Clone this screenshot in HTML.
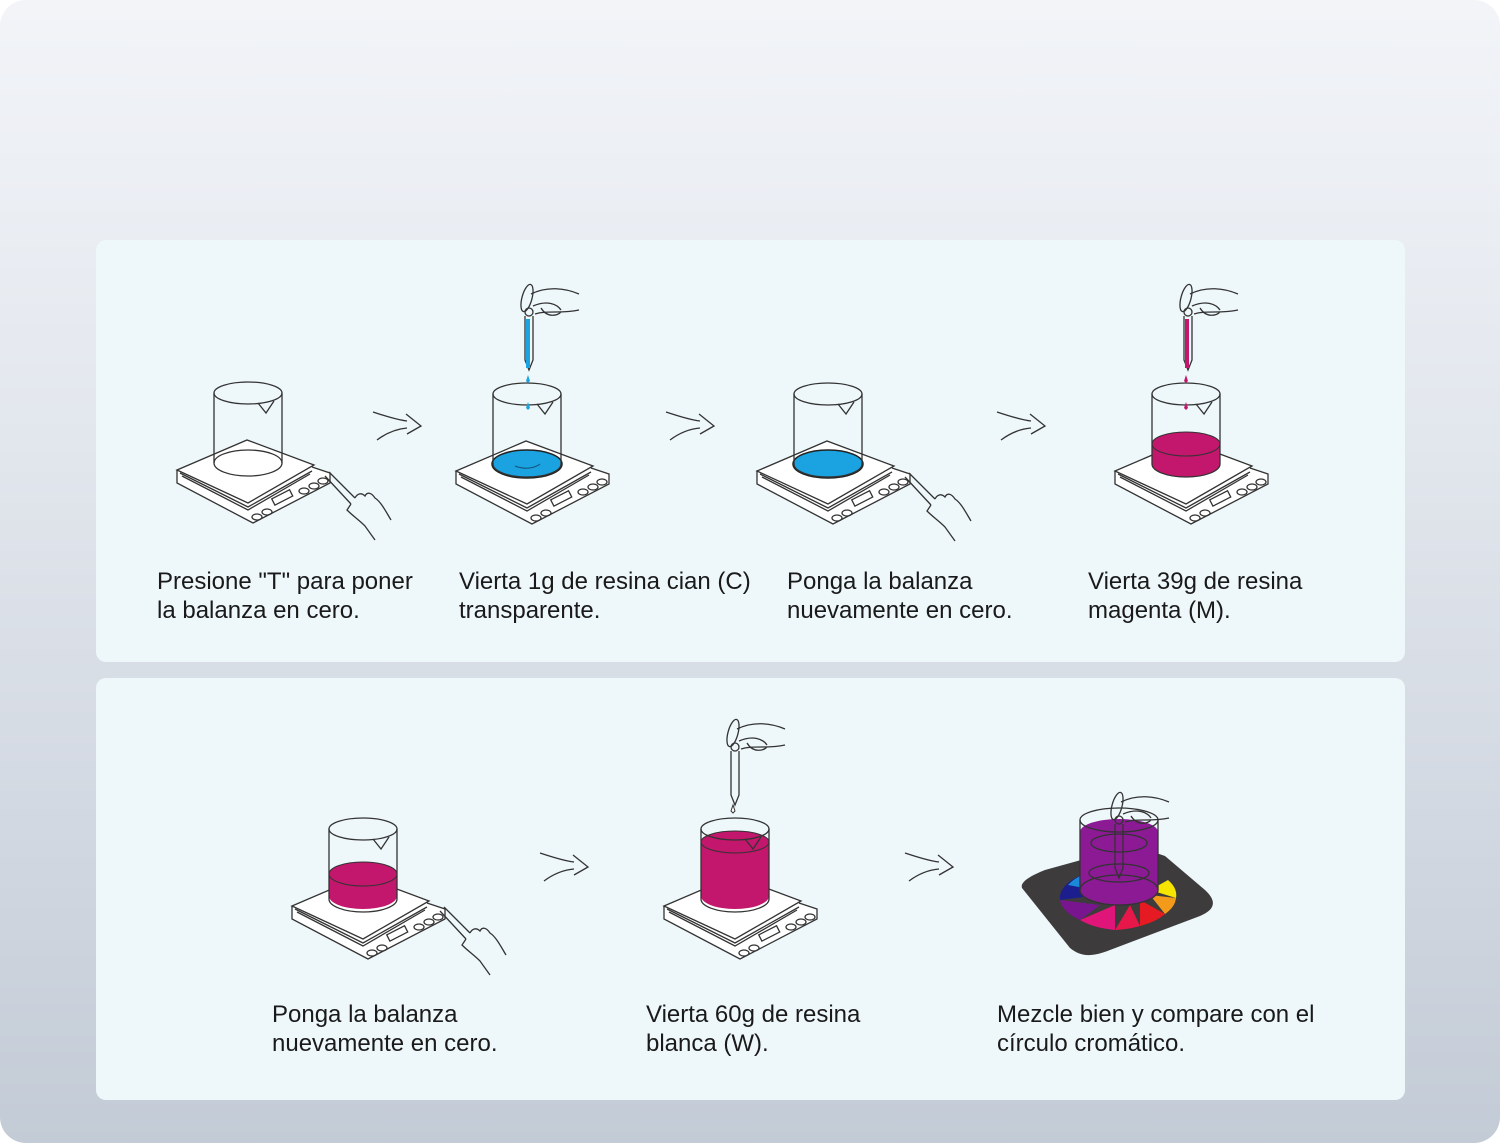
<!DOCTYPE html>
<html><head><meta charset="utf-8"><style>
html,body{margin:0;padding:0}
body{width:1500px;height:1143px;overflow:hidden;background:#fff}
.bg{position:absolute;left:0;top:0;width:1500px;height:1143px;border-radius:26px;background:linear-gradient(180deg,#f2f4f8 0%,#e6eaf0 30%,#d3d9e2 70%,#c3cbd6 100%)}
.panel{position:absolute;left:96px;width:1309px;height:422px;background:#eef7fa;border-radius:10px}
.t{position:absolute;font-family:"Liberation Sans",sans-serif;font-size:24px;line-height:29px;color:#1a1a1a}
svg{position:absolute;left:0;top:0}
</style></head><body>
<div class="bg"></div>
<div class="panel" style="top:240px"></div>
<div class="panel" style="top:678px"></div>
<svg width="1500" height="1143" viewBox="0 0 1500 1143">
<defs>
<g id="scale" fill="none" stroke="#333" stroke-width="1.3">
<path d="M-71,79 L-71,92 L5,132 L82,92 L82,82 L64,76" fill="#fff"/>
<path d="M-71,79 L-1,49 L66,74 L0,112 Z" fill="#fff"/>
<path d="M-68,82 L0,116 L64,80"/>
<path d="M-66,85 L0,119 L62,83"/>
<rect x="24" y="103" width="20" height="7" transform="rotate(-27 34 106)"/>
<ellipse cx="9" cy="126" rx="5" ry="3"/><ellipse cx="19" cy="121" rx="5" ry="3"/>
<ellipse cx="56" cy="100" rx="5" ry="3"/><ellipse cx="66" cy="95" rx="5" ry="3"/><ellipse cx="75" cy="90" rx="5" ry="3"/>
</g>
<g id="beaker" fill="none" stroke="#333" stroke-width="1.3">
<ellipse cx="0" cy="2" rx="34" ry="11"/>
<path d="M-34,2 L-34,72 M34,2 L34,72"/>
<path d="M-34,72 A34,13 0 0 0 34,72"/>
<path d="M10,12 L18,22 L26,10"/>
</g>
<g id="bk" fill="none" stroke="#333" stroke-width="1.3"><path d="M-34,72 A34,13 0 0 1 34,72"/></g>
<g id="hand" fill="none" stroke="#333" stroke-width="1.3">
<path d="M0,0 L26,28 M4,-4 L30,22 M30,22 C32,18 36,16 40,20 C42,16 46,16 50,22 C56,26 60,34 66,44 M26,28 L22,34 C28,40 34,44 40,50 L50,64"/>
</g>
<g id="drop" fill="none" stroke="#333" stroke-width="1.3">
<ellipse cx="0" cy="-62" rx="5" ry="14" transform="rotate(15 0 -62)"/>
<circle cx="2" cy="-48" r="4"/>
<path d="M4,-66 C20,-74 38,-72 52,-66 M6,-54 C20,-60 30,-56 34,-50 M8,-46 C20,-50 34,-46 52,-50 M14,-52 C20,-42 30,-44 34,-48"/>
<path d="M-2,-44 L-2,0 L2,10 L6,0 L6,-44"/>
</g>
<g id="arrow" fill="none" stroke="#333" stroke-width="1.3">
<path d="M0,0 C12,4 25,8 34,9 M4,28 C12,22 22,17 34,16 M33,2 L48,14 L34,22"/>
</g>
</defs>
<use href="#scale" x="248" y="391"/><use href="#beaker" x="248" y="391"/><use href="#bk" x="248" y="391"/>
<use href="#hand" x="325" y="476"/>
<use href="#arrow" x="373" y="412"/>
<use href="#scale" x="527" y="392"/>
<ellipse cx="527" cy="464" rx="35" ry="14" fill="#1aa3e0" stroke="#222" stroke-width="1.5"/>
<use href="#beaker" x="527" y="392"/>
<path d="M515,466 C525,470 535,468 540,464" stroke="#13507a" fill="none"/>
<use href="#drop" x="527" y="360"/>
<rect x="526" y="319" width="4" height="49" fill="#1aa3e0"/>
<path d="M528,375 l-2,6 l2,2 l2,-2z M528,402 l-2,6 l2,2 l2,-2z" fill="#1aa3e0"/>
<use href="#arrow" x="666" y="412"/>
<use href="#scale" x="828" y="392"/>
<ellipse cx="828" cy="464" rx="35" ry="14" fill="#1aa3e0" stroke="#222" stroke-width="1.5"/>
<use href="#beaker" x="828" y="392"/>
<use href="#hand" x="905" y="477"/>
<use href="#arrow" x="997" y="412"/>
<use href="#scale" x="1186" y="392"/>
<path d="M1152,444 L1152,464 A34,13 0 0 0 1220,464 L1220,444 A34,12 0 0 0 1152,444Z" fill="#c2176c"/>
<use href="#beaker" x="1186" y="392"/>
<ellipse cx="1186" cy="444" rx="34" ry="12" fill="none" stroke="#333"/>
<use href="#drop" x="1186" y="360"/>
<rect x="1185" y="319" width="4" height="49" fill="#c2176c"/>
<path d="M1186,375 l-2,6 l2,2 l2,-2z M1186,402 l-2,6 l2,2 l2,-2z" fill="#c2176c"/>
<use href="#scale" x="363" y="827"/>
<path d="M329,874 L329,896 A34,13 0 0 0 397,896 L397,874 A34,12 0 0 0 329,874Z" fill="#c2176c"/>
<use href="#beaker" x="363" y="827"/>
<ellipse cx="363" cy="874" rx="34" ry="12" fill="none" stroke="#333"/>
<use href="#hand" x="440" y="911"/>
<use href="#arrow" x="540" y="853"/>
<use href="#scale" x="735" y="827"/>
<path d="M701,842 L701,896 A34,13 0 0 0 769,896 L769,842 A34,11 0 0 0 701,842Z" fill="#c2176c"/>
<use href="#beaker" x="735" y="827"/>
<ellipse cx="735" cy="842" rx="34" ry="11" fill="none" stroke="#333"/>
<use href="#drop" x="733" y="795"/>
<path d="M733,805 l-2,6 l2,2 l2,-2z" fill="#fff" stroke="#333"/>
<use href="#arrow" x="905" y="853"/>
<path d="M1022,888 C1020,882 1030,876 1045,870 L1110,852 C1130,848 1150,850 1165,856 L1205,890 C1218,902 1214,910 1200,916 L1110,950 C1090,958 1080,956 1070,948 Z" fill="#3d3b3b"/>
<g>
<path d="M1060,900 A60,30 0 0 1 1090,872 L1100,895Z" fill="#1b1e8c"/>
<path d="M1060,900 A60,30 0 0 0 1080,920 L1100,905Z" fill="#7a1590"/>
<path d="M1080,920 A60,30 0 0 0 1115,930 L1115,905Z" fill="#e0157a"/>
<path d="M1115,930 A60,30 0 0 0 1140,926 L1130,905Z" fill="#e8174a"/>
<path d="M1140,926 A60,30 0 0 0 1165,914 L1140,900Z" fill="#e51a22"/>
<path d="M1165,914 A60,30 0 0 0 1176,898 L1150,895Z" fill="#f39a1a"/>
<path d="M1176,898 A60,30 0 0 0 1168,880 L1150,890Z" fill="#f5e500"/>
<path d="M1068,885 A60,30 0 0 1 1080,876 L1095,890Z" fill="#1a8ad8"/>
</g>
<path d="M1080,832 L1080,890 A39,15 0 0 0 1158,890 L1158,832 A39,13 0 0 0 1080,832Z" fill="#8b1a94"/>
<g fill="none" stroke="#333" stroke-width="1.3">
<ellipse cx="1119" cy="820" rx="39" ry="12"/>
<path d="M1080,820 L1080,890 M1158,820 L1158,890"/>
<ellipse cx="1119" cy="890" rx="39" ry="15"/>
<ellipse cx="1119" cy="843" rx="28" ry="9"/>
<ellipse cx="1119" cy="873" rx="30" ry="9"/>
</g>
<use href="#drop" x="1117" y="868"/>
</svg>
<div class="t" style="left:157px;top:567px">Presione "T" para poner<br>la balanza en cero.</div>
<div class="t" style="left:459px;top:567px">Vierta 1g de resina cian (C)<br>transparente.</div>
<div class="t" style="left:787px;top:567px">Ponga la balanza<br>nuevamente en cero.</div>
<div class="t" style="left:1088px;top:567px">Vierta 39g de resina<br>magenta (M).</div>
<div class="t" style="left:272px;top:1000px">Ponga la balanza<br>nuevamente en cero.</div>
<div class="t" style="left:646px;top:1000px">Vierta 60g de resina<br>blanca (W).</div>
<div class="t" style="left:997px;top:1000px">Mezcle bien y compare con el<br>círculo cromático.</div>
</body></html>
